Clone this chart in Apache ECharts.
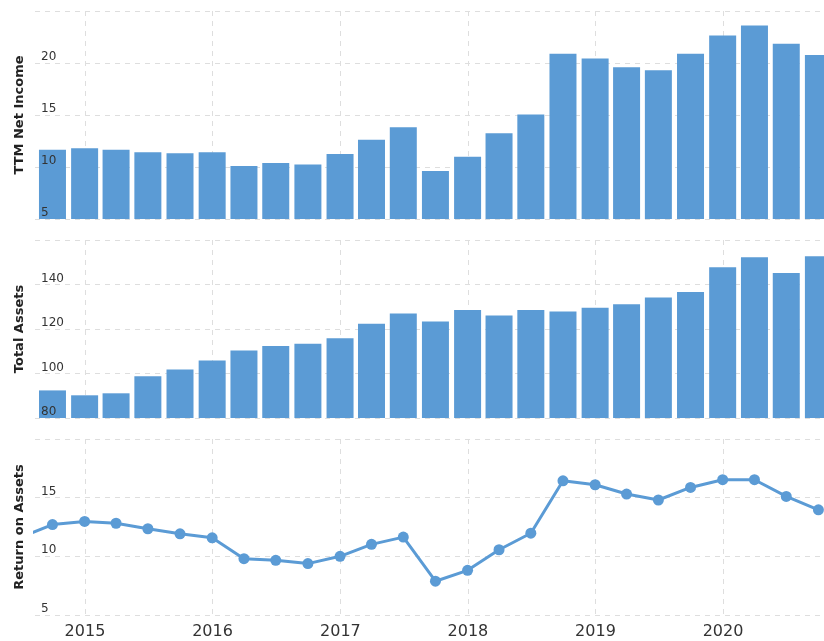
<!doctype html>
<html>
<head>
<meta charset="utf-8">
<script src="https://cdn.jsdelivr.net/npm/echarts@6/dist/echarts.min.js"></script>
<style>
  html, body { margin: 0; padding: 0; background: #fff; }
  #chart { width: 824px; height: 641px; }
</style>
</head>
<body>
<div id="chart"></div>
<script>
// quarter end dates (first one only feeds the line going off the left edge)
var quarters = ['2014-06-30', '2014-09-30', '2014-12-31', '2015-03-31', '2015-06-30', '2015-09-30',
  '2015-12-31', '2016-03-31', '2016-06-30', '2016-09-30', '2016-12-31', '2017-03-31', '2017-06-30',
  '2017-09-30', '2017-12-31', '2018-03-31', '2018-06-30', '2018-09-30', '2018-12-31', '2019-03-31',
  '2019-06-30', '2019-09-30', '2019-12-31', '2020-03-31', '2020-06-30', '2020-09-30'];
var barQuarters = quarters.slice(1);

var netIncome = [11.66, 11.81, 11.66, 11.43, 11.33, 11.43, 10.09, 10.38, 10.25, 11.24, 12.61, 13.82,
  9.61, 10.99, 13.24, 15.06, 20.9, 20.44, 19.58, 19.3, 20.9, 22.64, 23.6, 21.84, 20.76];
var totalAssets = [92.4, 90.2, 91.1, 98.8, 101.8, 105.8, 110.3, 112.4, 113.4, 115.8, 122.4, 127.0,
  123.4, 128.5, 126.1, 128.5, 127.9, 129.6, 131.1, 134.2, 136.6, 147.8, 152.2, 145.2, 152.7];
var returnOnAssets = [11.6, 12.71, 12.97, 12.82, 12.35, 11.92, 11.58, 9.8, 9.66, 9.38, 10.0, 11.02,
  11.64, 7.88, 8.81, 10.56, 11.97, 16.44, 16.1, 15.31, 14.8, 15.87, 16.53, 16.53, 15.11, 13.96];

var axisNames = ['TTM Net Income', 'Total Assets', 'Return on Assets'];
var yRanges = [[5, 25, 5], [80, 160, 20], [5, 20, 5]];

var xMin = +new Date('2014-08-11T00:00:00');
var xMax = +new Date('2020-10-16T00:00:00');
var blue = '#5b9bd5';
var gridColor = '#dedede';
var plotWidth = 824 - 35;
var barW = 27;

// echarts widens a bar axis by half a bar on each side, so hand it a slightly narrower range
var barPad = (xMax - xMin) * (barW / plotWidth) / 2;

function pairs(dates, vals) {
  var out = [];
  for (var i = 0; i < vals.length; i++) out.push([dates[i], vals[i]]);
  return out;
}

var grids = [
  { left: 35, right: 0, top: 11, height: 208, containLabel: false, outerBoundsMode: 'none' },
  { left: 35, right: 0, top: 240, height: 178, containLabel: false, outerBoundsMode: 'none' },
  { left: 35, right: 0, top: 439, height: 176, containLabel: false, outerBoundsMode: 'none' }
];

var xAxes = [];
var yAxes = [];
for (var g = 0; g < 3; g++) {
  var hasBars = g < 2;
  xAxes.push({
    type: 'time',
    gridIndex: g,
    min: hasBars ? xMin + barPad : xMin,
    max: hasBars ? xMax - barPad : xMax,
    splitNumber: 6,
    minInterval: 365 * 24 * 3600 * 1000,
    axisLine: { show: false },
    axisTick: { show: false },
    axisLabel: {
      show: g == 2,
      fontFamily: 'DejaVu Sans',
      fontSize: 16,
      color: '#333',
      margin: 9,
      hideOverlap: false,
      formatter: function (value) {
        var d = new Date(value);
        if (d.getMonth() == 0 && d.getDate() == 1) return String(d.getFullYear());
        return '';
      }
    },
    splitLine: {
      show: true,
      showMinLine: false,
      showMaxLine: false,
      lineStyle: { color: gridColor, type: [5, 5] }
    }
  });
  // grid lines, behind the marks
  yAxes.push({
    type: 'value',
    gridIndex: g,
    position: 'left',
    min: yRanges[g][0],
    max: yRanges[g][1],
    interval: yRanges[g][2],
    axisLine: { show: false },
    axisTick: { show: false },
    axisLabel: { show: false },
    splitLine: { show: true, lineStyle: { color: gridColor, type: [5, 5] } }
  });
  // labels and name, on top of the marks
  yAxes.push({
    type: 'value',
    gridIndex: g,
    position: 'left',
    offset: 0,
    z: 10,
    min: yRanges[g][0],
    max: yRanges[g][1],
    interval: yRanges[g][2],
    name: axisNames[g],
    nameLocation: 'middle',
    nameGap: 9,
    nameTextStyle: { fontFamily: 'DejaVu Sans', fontSize: 13, fontWeight: 'bold', color: '#222' },
    axisLine: { show: false },
    axisTick: { show: false },
    splitLine: { show: false },
    axisLabel: {
      inside: true,
      margin: 6,
      showMaxLabel: false,
      verticalAlign: 'bottom',
      lineHeight: 12,
      fontFamily: 'DejaVu Sans',
      fontSize: 12,
      color: '#333'
    }
  });
}

var option = {
  animation: false,
  backgroundColor: '#fff',
  grid: grids,
  xAxis: xAxes,
  yAxis: yAxes,
  series: [
    {
      type: 'bar',
      xAxisIndex: 0,
      yAxisIndex: 0,
      barWidth: barW,
      clip: true,
      itemStyle: { color: blue },
      data: pairs(barQuarters, netIncome)
    },
    {
      type: 'bar',
      xAxisIndex: 1,
      yAxisIndex: 2,
      barWidth: barW,
      clip: true,
      itemStyle: { color: blue },
      data: pairs(barQuarters, totalAssets)
    },
    {
      type: 'line',
      xAxisIndex: 2,
      yAxisIndex: 4,
      clip: true,
      symbol: 'circle',
      symbolSize: 11,
      lineStyle: { color: blue, width: 3 },
      itemStyle: { color: blue },
      data: pairs(quarters, returnOnAssets)
    }
  ]
};

var myChart = echarts.init(document.getElementById('chart'));
myChart.setOption(option);
</script>
</body>
</html>
